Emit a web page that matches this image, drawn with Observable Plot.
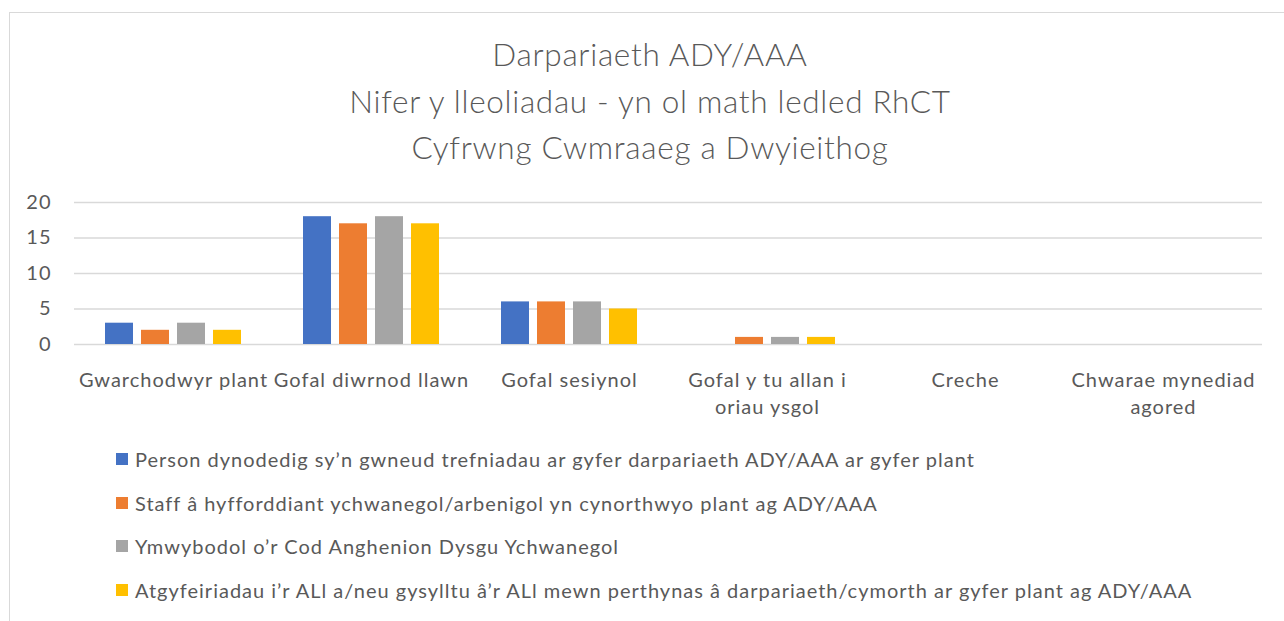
<!DOCTYPE html>
<html>
<head>
<meta charset="utf-8">
<script src="https://cdn.jsdelivr.net/npm/d3@7"></script>
<script src="https://cdn.jsdelivr.net/npm/@observablehq/plot@0.6"></script>
<style>
  html, body { margin: 0; padding: 0; background: #fff; }
  body { width: 1284px; height: 621px; overflow: hidden; position: relative; font-family: Lato, "Open Sans", sans-serif; color: #595959; }
  #frame { position: absolute; left: 9px; top: 12px; width: 1300px; height: 700px; border: 1.5px solid #d9d9d9; box-sizing: border-box; }
  #title { position: absolute; left: 0; top: 31px; width: 1300px; text-align: center; font-size: 31.5px; line-height: 46.5px; font-weight: 300; letter-spacing: 0.7px; color: #595959; }
  #chart { position: absolute; left: 0; top: 180px; }
  #legend { position: absolute; left: 116px; top: 0; }
  .row { position: absolute; left: 0; white-space: nowrap; font-size: 20px; letter-spacing: 1px; height: 24px; line-height: 24px; display: flex; align-items: center; }
  .sw { width: 12px; height: 12px; margin-right: 7px; flex: none; }
</style>
</head>
<body>
<div id="frame"></div>
<div id="title"></div>
<div id="chart"></div>
<div id="legend"></div>
<script>
const titleLines = ["Darpariaeth ADY/AAA", "Nifer y lleoliadau - yn ol math ledled RhCT", "Cyfrwng Cwmraaeg a Dwyieithog"];
const categories = ["Gwarchodwyr plant", "Gofal diwrnod llawn", "Gofal sesiynol", "Gofal y tu allan i oriau ysgol", "Creche", "Chwarae mynediad agored"];
const categoryLabels = ["Gwarchodwyr plant", "Gofal diwrnod llawn", "Gofal sesiynol", "Gofal y tu allan i\noriau ysgol", "Creche", "Chwarae mynediad\nagored"];
const series = [
  "Person dynodedig sy’n gwneud trefniadau ar gyfer darpariaeth ADY/AAA ar gyfer plant",
  "Staff â hyfforddiant ychwanegol/arbenigol yn cynorthwyo plant ag ADY/AAA",
  "Ymwybodol o’r Cod Anghenion Dysgu Ychwanegol",
  "Atgyfeiriadau i’r ALl a/neu gysylltu â’r ALl mewn perthynas â darpariaeth/cymorth ar gyfer plant ag ADY/AAA"
];
const personValues = [3, 18, 6, 0, 0, 0];
const staffValues = [2, 17, 6, 1, 0, 0];
const codValues = [3, 18, 6, 1, 0, 0];
const referralValues = [2, 17, 5, 1, 0, 0];
const colors = ["#4472c4", "#ed7d31", "#a5a5a5", "#ffc000"];
const yTicks = [0, 5, 10, 15, 20];

document.getElementById("title").innerHTML = titleLines.map(t => `<div>${t}</div>`).join("");

const valueSets = [personValues, staffValues, codValues, referralValues];
const data = [];
categories.forEach((c, i) => series.forEach((s, j) => data.push({category: c, series: s, value: valueSets[j][i]})));
const labelOf = new Map(categories.map((c, i) => [c, categoryLabels[i]]));

const chart = Plot.plot({
  width: 1284,
  height: 250,
  marginLeft: 73,
  marginRight: 21,
  marginTop: 22,
  marginBottom: 86,
  style: {fontFamily: "Lato, 'Open Sans', sans-serif", color: "#595959", background: "transparent", letterSpacing: "1px"},
  fx: {domain: categories, padding: 0, axis: null, label: null},
  x: {domain: series, paddingInner: 0.22, paddingOuter: 0.86, axis: null},
  y: {domain: [0, 20], axis: null},
  color: {domain: series, range: colors},
  marks: [
    Plot.gridY(yTicks, {stroke: "#d9d9d9", strokeOpacity: 1, strokeWidth: 1.5}),
    Plot.barY(data, {fx: "category", x: "series", y: "value", fill: "series"}),
    Plot.axisY({ticks: yTicks, tickSize: 0, tickPadding: 23, fontSize: 20, fill: "#595959", label: null}),
    Plot.axisFx({anchor: "bottom", tickSize: 0, tickPadding: 23, fontSize: 20, fill: "#595959", label: null, lineHeight: 1.35, tickFormat: d => labelOf.get(d)})
  ]
});
document.getElementById("chart").appendChild(chart);

const rowCenters = [459, 502.5, 546, 589.5];
const legend = document.getElementById("legend");
series.forEach((s, i) => {
  const row = document.createElement("div");
  row.className = "row";
  row.style.top = (rowCenters[i] - 12) + "px";
  row.innerHTML = `<span class="sw" style="background:${colors[i]}"></span><span>${s}</span>`;
  legend.appendChild(row);
});
</script>
</body>
</html>
